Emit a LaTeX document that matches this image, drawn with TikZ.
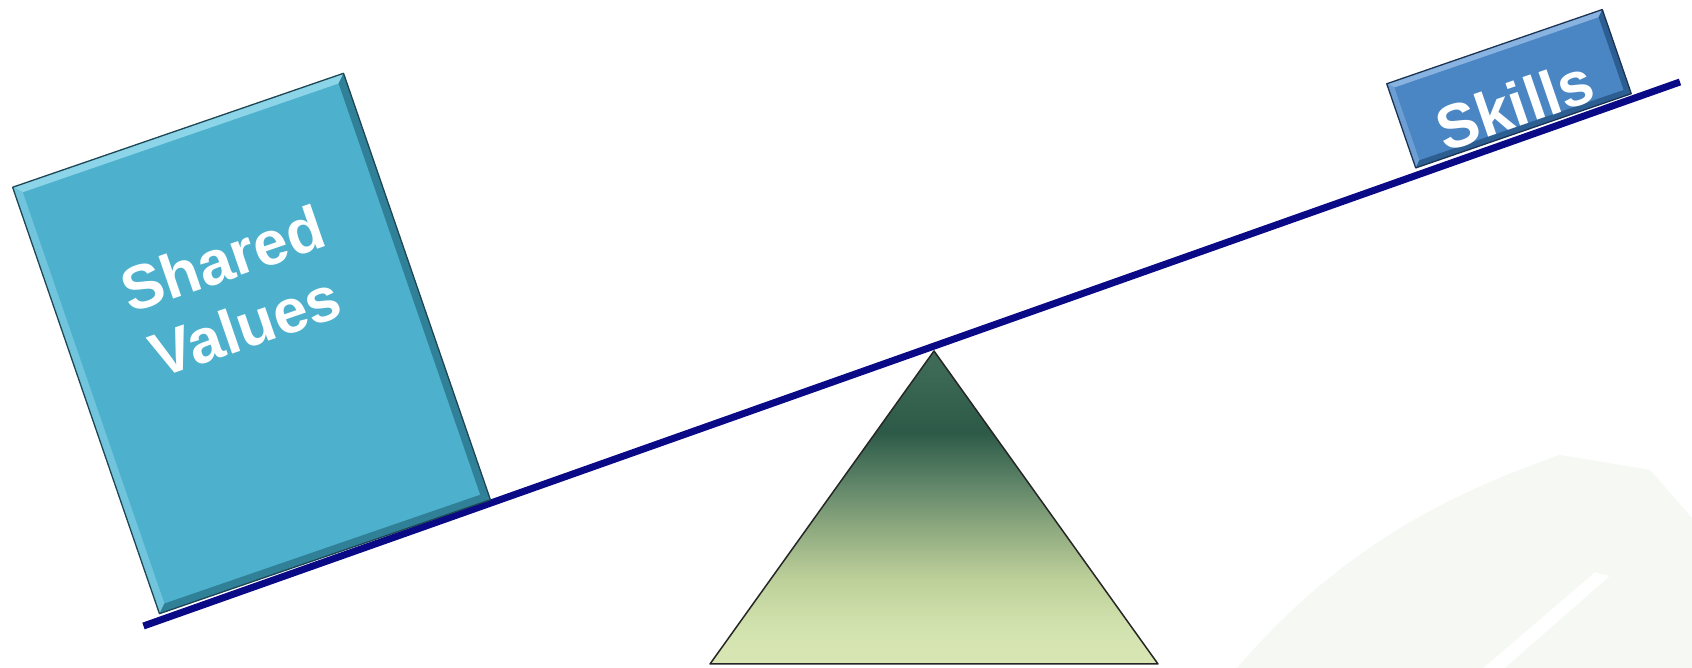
\documentclass[tikz,border=0pt]{standalone}
\usepackage{fontspec}
\setmainfont{Liberation Sans}
\usetikzlibrary{calc}
\definecolor{beamc}{RGB}{10,10,135}
\definecolor{svmain}{RGB}{77,177,205}
\definecolor{svlight}{RGB}{140,212,232}
\definecolor{svdark}{RGB}{48,128,152}
\definecolor{svline}{RGB}{30,70,84}
\definecolor{skmain}{RGB}{74,134,196}
\definecolor{sklight}{RGB}{136,178,224}
\definecolor{skdark}{RGB}{45,94,146}
\definecolor{skline}{RGB}{28,52,84}
\definecolor{faint}{RGB}{246,248,244}
\pgfdeclareverticalshading{trishade}{100bp}{
  rgb(0bp)=(0.847,0.902,0.706);
  rgb(25bp)=(0.847,0.902,0.706);
  rgb(30.5bp)=(0.827,0.890,0.686);
  rgb(38.5bp)=(0.741,0.816,0.604);
  rgb(46.5bp)=(0.561,0.667,0.502);
  rgb(54bp)=(0.369,0.518,0.408);
  rgb(62bp)=(0.176,0.353,0.282);
  rgb(73bp)=(0.243,0.420,0.341);
  rgb(100bp)=(0.243,0.420,0.341)}
\tikzset{
  boxshape/.style={rectangle, rotate=19, inner sep=0pt, outer sep=0pt},
  boxtext/.style={rotate=19, text=white, align=center, inner sep=0pt},
}
\begin{document}
\begin{tikzpicture}[x=1pt,y=1pt]
\useasboundingbox (0,0) rectangle (1692,668);
\fill[white] (0,0) rectangle (1692,668);
% faint background swoosh
\fill[faint] (1237,0) .. controls (1330,108) and (1430,168) .. (1560,213)
  -- (1650,198) -- (1692,150) -- (1692,0) -- (1505,0) -- (1610,92) -- (1595,96) -- (1483,0) -- cycle;
% fulcrum
\coordinate (apex) at (934,317);
\coordinate (bl) at (710,4);
\coordinate (br) at (1158,4);
\shade[shading=trishade] (apex) -- (br) -- (bl) -- cycle;
\draw[black!85, line width=1.5pt, line join=round] (apex) -- (br) -- (bl) -- cycle;
% beam
\coordinate (beamL) at (143.5,42);
\coordinate (beamR) at (1680,586);
\draw[beamc, line width=7pt] (beamL) -- (beamR);
% Shared Values box
\node[boxshape, minimum width=350pt, minimum height=451pt, fill=svmain] (sv) at (251.5,324.5) {};
\node[boxshape, minimum width=334pt, minimum height=435pt] (svi) at (sv.center) {};
\fill[svlight] (sv.north west) -- (sv.north east) -- (svi.north east) -- (svi.north west) -- cycle;
\fill[svlight!55!svmain] (sv.north west) -- (svi.north west) -- (svi.south west) -- (sv.south west) -- cycle;
\fill[svdark] (sv.north east) -- (sv.south east) -- (svi.south east) -- (svi.north east) -- cycle;
\fill[svdark] (sv.south west) -- (sv.south east) -- (svi.south east) -- (svi.south west) -- cycle;
\draw[svline, line width=1.3pt, line join=round] (sv.north west) -- (sv.north east) -- (sv.south east) -- (sv.south west) -- cycle;
\node[boxtext, font=\fontsize{62}{71}\selectfont\bfseries] (svt) at ($(sv.center)!0.24!(sv.north)$) {Shared\\Values};
% Skills box
\node[boxshape, minimum width=228pt, minimum height=89pt, fill=skmain] (sk) at (1509,579.25) {};
\node[boxshape, minimum width=216pt, minimum height=77pt] (ski) at (sk.center) {};
\fill[sklight] (sk.north west) -- (sk.north east) -- (ski.north east) -- (ski.north west) -- cycle;
\fill[sklight!55!skmain] (sk.north west) -- (ski.north west) -- (ski.south west) -- (sk.south west) -- cycle;
\fill[skdark] (sk.north east) -- (sk.south east) -- (ski.south east) -- (ski.north east) -- cycle;
\fill[skdark] (sk.south west) -- (sk.south east) -- (ski.south east) -- (ski.south west) -- cycle;
\draw[skline, line width=1.3pt, line join=round] (sk.north west) -- (sk.north east) -- (sk.south east) -- (sk.south west) -- cycle;
\node[boxtext, font=\fontsize{62}{70}\selectfont\bfseries] (skt) at ($(sk.center)!0.38!(sk.south)$) {Skills};
\end{tikzpicture}
\end{document}
